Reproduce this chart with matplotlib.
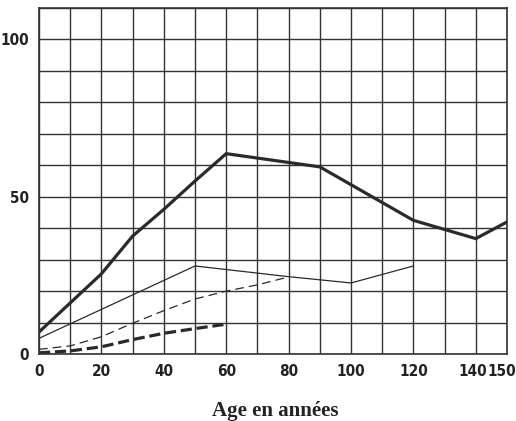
import numpy as np
import matplotlib.pyplot as plt
import matplotlib.transforms as mtransforms
from matplotlib import font_manager

# values (age in years -> value)
thick_x = [0, 20, 30, 40, 50, 60, 90, 120, 140, 150]
thick_y = [7, 25.5, 37.5, 46, 55, 63.7, 59.5, 42.5, 36.7, 42]

thin_x = [0, 50, 80, 100, 120]
thin_y = [5, 28, 24.6, 22.6, 28]

dash_x = [0, 10, 20, 30, 40, 50, 60, 70, 80]
dash_y = [1.5, 2.6, 5.5, 9.8, 13.8, 17.5, 20, 22, 24.5]

thick_dash_x = [0, 10, 20, 30, 40, 50, 60]
thick_dash_y = [0.4, 1, 2.3, 4.6, 6.6, 8.1, 9.5]

x_ticks = [0, 20, 40, 60, 80, 100, 120, 140, 150]
y_ticks = [0, 50, 100]

names = {f.name for f in font_manager.fontManager.ttflist}
narrow = [n for n in ['Liberation Sans Narrow', 'DejaVu Sans'] if n in names]
ink = '#2a2a2a'

fig = plt.figure(figsize=(5.16, 4.21), dpi=100)
ax = fig.add_axes([0.0756, 0.159, 0.907, 0.822])

ax.plot(thick_x, thick_y, color=ink, lw=2.3, solid_joinstyle='miter')
ax.plot(thin_x, thin_y, color=ink, lw=0.9)
ax.plot(dash_x, dash_y, color=ink, lw=0.9, dashes=(7, 4))
ax.plot(thick_dash_x, thick_dash_y, color=ink, lw=2.3, dashes=(3.5, 1.5))

ax.set_xlim(0, 150)
ax.set_ylim(0, 110)
ax.set_xticks(np.arange(0, 151, 10), minor=True)
ax.set_yticks(np.arange(0, 111, 10), minor=True)
ax.set_xticks(x_ticks)
ax.set_yticks(y_ticks)
ax.set_xticklabels([str(t) for t in x_ticks])
ax.set_yticklabels([str(t) for t in y_ticks])
ax.grid(which='both', color='#333333', lw=1.0)
ax.set_axisbelow(True)
ax.tick_params(which='both', length=0, pad=7)
for lab in ax.get_xticklabels() + ax.get_yticklabels():
    lab.set_family(narrow)
    lab.set_stretch('condensed')
    lab.set_fontsize(11)
    lab.set_fontweight('bold')
    lab.set_color('#222222')

# 140 and 150 are crowded, nudge them left like the original
ticks = ax.xaxis.get_major_ticks()
for tick, dx in [(ticks[-2], -3), (ticks[-1], -5)]:
    shift = mtransforms.ScaledTranslation(dx / 100, 0, fig.dpi_scale_trans)
    tick.label1.set_transform(tick.label1.get_transform() + shift)

for sp in ax.spines.values():
    sp.set_color('#333333')
    sp.set_linewidth(1.2)

fig.text(0.533, 0.012, 'Age en années', ha='center', va='baseline',
         family=['Liberation Serif', 'DejaVu Serif'], fontsize=15,
         fontweight='bold', color='#222222')

fig.savefig('out.png', dpi=100, facecolor='white')
